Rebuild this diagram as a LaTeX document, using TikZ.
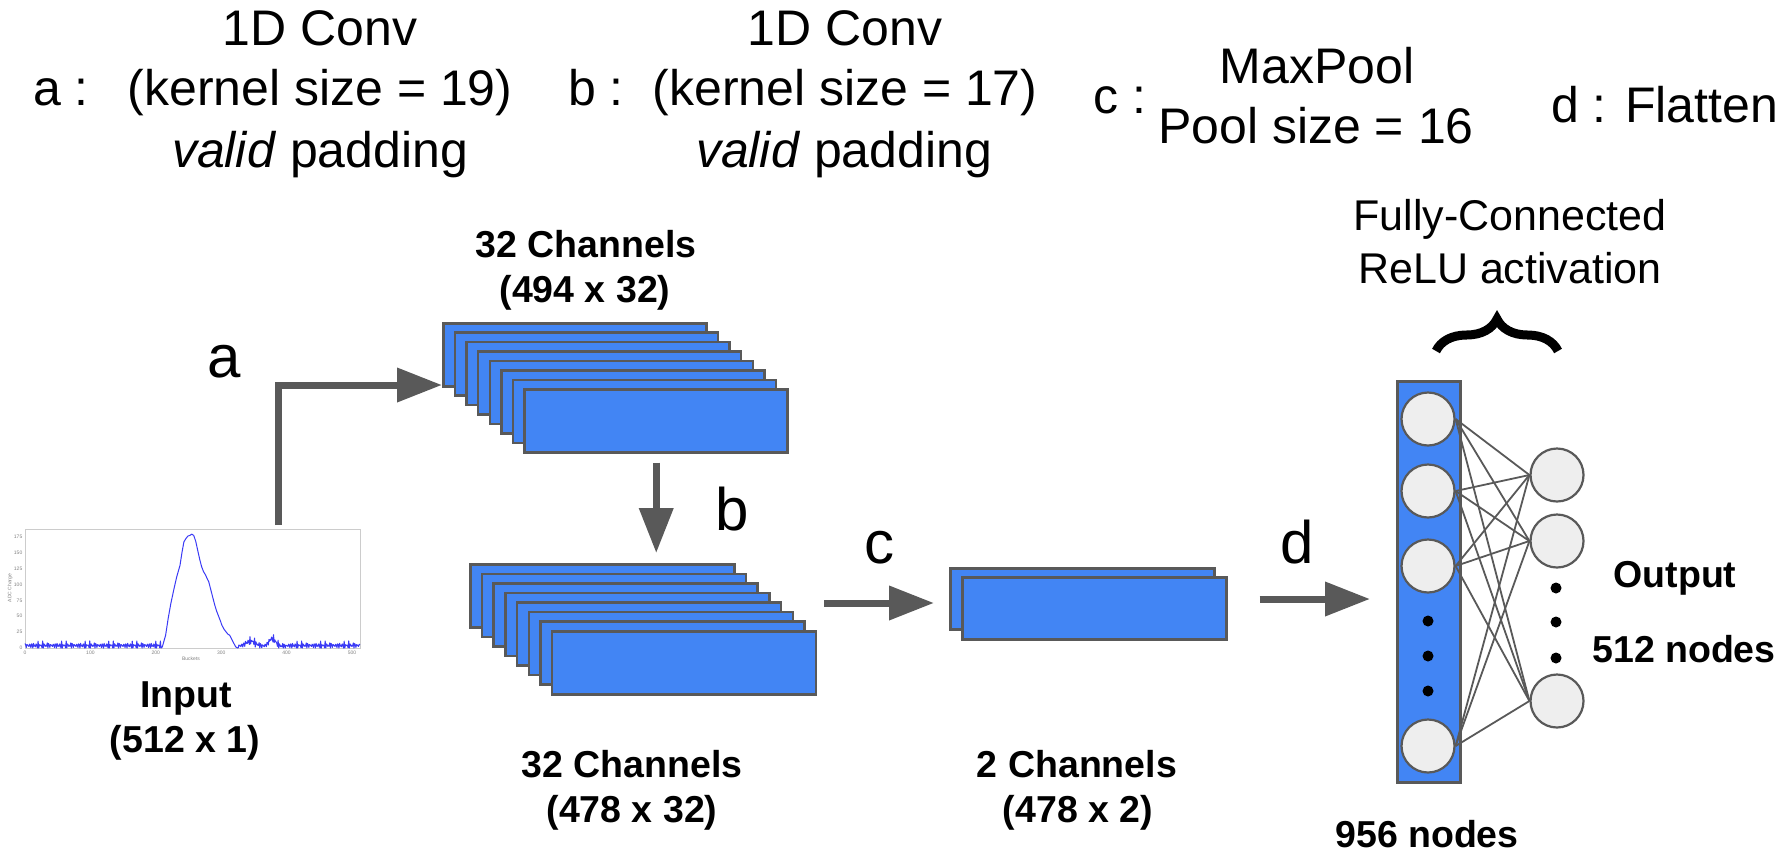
\documentclass[tikz,border=0pt]{standalone}
\usepackage{fontspec}
\setmainfont{Liberation Sans}
\usetikzlibrary{arrows.meta,decorations.pathreplacing,calc}
\definecolor{boxblue}{HTML}{4285F4}
\definecolor{lgray}{HTML}{595959}
\definecolor{cfill}{HTML}{EEEEEE}
\definecolor{plotblue}{HTML}{3A3AF5}
\definecolor{framegray}{HTML}{CCCCCC}
\begin{document}
\begin{tikzpicture}[x=1pt,y=-1pt,
  big/.style={font=\fontsize{50}{60}\selectfont, inner sep=0pt, anchor=base},
  lbl/.style={font=\fontsize{60}{72}\selectfont, inner sep=0pt, anchor=base},
  bld/.style={font=\fontsize{37.5}{45}\selectfont\bfseries, inner sep=0pt, anchor=base},
  fc/.style={font=\fontsize{43}{52}\selectfont, inner sep=0pt, anchor=base},
  fmap/.style={draw=lgray, line width=2.5pt, fill=boxblue, minimum width=263pt, minimum height=63pt, inner sep=0pt, anchor=north west},
  neuron/.style={circle, draw=lgray, line width=2.2pt, fill=cfill, minimum size=53pt, inner sep=0pt},
  blackdot/.style={circle, fill=black, minimum size=11pt, inner sep=0pt},
  flow/.style={draw=lgray, line width=7pt, -{Triangle[length=45pt,width=33pt]}},
  wire/.style={draw=lgray, line width=1.8pt},
  tick/.style={font=\fontsize{5}{6}\selectfont, text=gray, inner sep=0.5pt}
]
\useasboundingbox (0,0) rectangle (1784,855);

% ---- top texts
\node[big] (a1) at (320,45) {1D Conv};
\node[big] (a2) at (320,105) {(kernel size = 19)};
\node[big] (a3) at (320,167) {\textit{valid} padding};
\node[big, anchor=base west] (alab) at (33,105) {a :};
\node[big] (b1) at (845,45) {1D Conv};
\node[big] (b2) at (845,105) {(kernel size = 17)};
\node[big] (b3) at (844,167) {\textit{valid} padding};
\node[big, anchor=base west] (blab) at (568,105) {b :};
\node[big, anchor=base west] (clab) at (1093,113) {c :};
\node[big] (c1) at (1317,83) {MaxPool};
\node[big] (c2) at (1316,143) {Pool size = 16};
\node[big, anchor=base west] (dlab) at (1551,122) {d : Flatten};
\node[fc] (fc1) at (1510,230) {Fully-Connected};
\node[fc] (fc2) at (1510,283) {ReLU activation};

% ---- input plot
\node[draw=framegray, line width=1pt, minimum width=335pt, minimum height=119pt, inner sep=0pt, anchor=north west] (plot) at (25,529) {};
\begin{scope}[shift={(25,648)}, xscale=0.654, yscale=-0.636]
\draw[plotblue, line width=1pt, line join=round]
  plot[domain=0:208, samples=209] (\x, {max(0, 4+3*sin(150*mod(\x,12))+2.5*sin(110*mod(\x,36)+30)+2*sin(200*mod(\x,9)+70))})
  -- (210,2) -- (215,20) -- (219,47) -- (223,70) -- (228,94) -- (232,112) -- (237,130) -- (240,150)
  -- (243,167) -- (246,172) -- (249,176) -- (252,177) -- (255,179) -- (258,177) -- (261,168)
  -- (264,154) -- (267,140) -- (270,128) -- (273,120) -- (276,115) -- (279,108) -- (281,104)
  -- (284,92) -- (287,80) -- (290,68) -- (293,58) -- (296,50) -- (299,42) -- (301,36) -- (304,30)
  -- (307,26) -- (310,22) -- (313,20) -- (316,14) -- (319,8) -- (322,2) -- (325,0)
  -- plot[domain=326:400, samples=75] (\x, {max(0, 3+3*sin(150*mod(\x,12))+2.5*sin(110*mod(\x,36)+30)+2*sin(200*mod(\x,9)+70)+8*exp(-min(9,((\x-345)/10)^2))+12*exp(-min(9,((\x-378)/7)^2)))})
  -- plot[domain=401:512, samples=112] (\x, {max(0, 4+3*sin(150*mod(\x,12))+2.5*sin(110*mod(\x,36)+30)+2*sin(200*mod(\x,9)+70))});
\end{scope}
\foreach \v in {0,25,...,175} \node[tick, anchor=east] (yt\v) at (23,{648-0.636*\v}) {\v};
\foreach \v in {0,100,...,500} \node[tick, anchor=north] (xt\v) at ({25+0.654*\v},650) {\v};
\node[tick, anchor=north] (xlab) at (191,656) {Buckets};
\node[tick, rotate=90] (ylab) at (10,588) {ADC Charge};
\node[bld] (in1) at (186,707) {Input};
\node[bld] (in2) at (185,752) {(512 x 1)};

% ---- first conv stack
\foreach \i in {0,...,7} \node[fmap] (t\i) at ({442+11.64*\i},{322+9.43*\i}) {};
\node[bld] (tl1) at (586,257) {32 Channels};
\node[bld] (tl2) at (585,302) {(494 x 32)};

% ---- second conv stack
\foreach \i in {0,...,7} \node[fmap, minimum width=264pt] (m\i) at ({469+11.7*\i},{563+9.57*\i}) {};
\node[bld] (ml1) at (632,777) {32 Channels};
\node[bld] (ml2) at (632,822) {(478 x 32)};

% ---- pooled maps
\node[fmap, minimum width=264pt, minimum height=61pt] (p0) at (949,567) {};
\node[fmap, minimum width=264pt, minimum height=62pt] (p1) at (961,576) {};
\node[bld] (pl1) at (1077,777) {2 Channels};
\node[bld] (pl2) at (1078,822) {(478 x 2)};

% ---- flatten + dense
\node[fmap, minimum width=63pt, minimum height=401pt] (col) at (1396,380) {};
\node[neuron] (L1) at (1428,419) {};
\node[neuron] (L2) at (1428,491) {};
\node[neuron] (L3) at (1428,566) {};
\node[neuron] (L4) at (1428,746) {};
\node[blackdot] (ld1) at (1428,621) {};
\node[blackdot] (ld2) at (1428,656) {};
\node[blackdot] (ld3) at (1428,691) {};
\node[neuron] (R1) at (1557,475) {};
\node[neuron] (R2) at (1557,541) {};
\node[neuron] (R3) at (1557,701) {};
\node[blackdot] (rd1) at (1556,588) {};
\node[blackdot] (rd2) at (1556,622) {};
\node[blackdot] (rd3) at (1556,658) {};
\foreach \l in {L1,L2,L3,L4} \foreach \r in {R1,R2,R3} \draw[wire] (\l.east) -- (\r.west);
\node[bld] (nl) at (1427,847) {956 nodes};
\node[bld] (ol1) at (1675,587) {Output};
\node[bld] (ol2) at (1684,662) {512 nodes};
\draw[line width=9pt, decorate, decoration={brace, amplitude=32pt}] (1436,351) -- (1558,351);

% ---- flow arrows
\coordinate (as) at ($(plot.north)+(85,-4)$);
\coordinate (ae) at ($(t0.south west)+(0,-2.5)$);
\draw[flow] (as) |- (ae);
\draw[flow] ($(t7.south)+(0,9)$) -- ($(t7.south |- m0.north)+(0,-10)$);
\coordinate (cs) at ($(m7.north east)+(7,-27)$);
\draw[flow] (cs) -- ($(cs -| p0.west)+(-15,0)$);
\coordinate (ds) at ($(p1.north east)+(32,23)$);
\draw[flow] (ds) -- ($(ds -| col.west)+(-26,0)$);
\node[lbl] (la) at (224,377) {a};
\node[lbl] (lb) at (732,530) {b};
\node[lbl] (lc) at (879,563) {c};
\node[lbl] (ld) at (1297,563) {d};
\end{tikzpicture}
\end{document}
